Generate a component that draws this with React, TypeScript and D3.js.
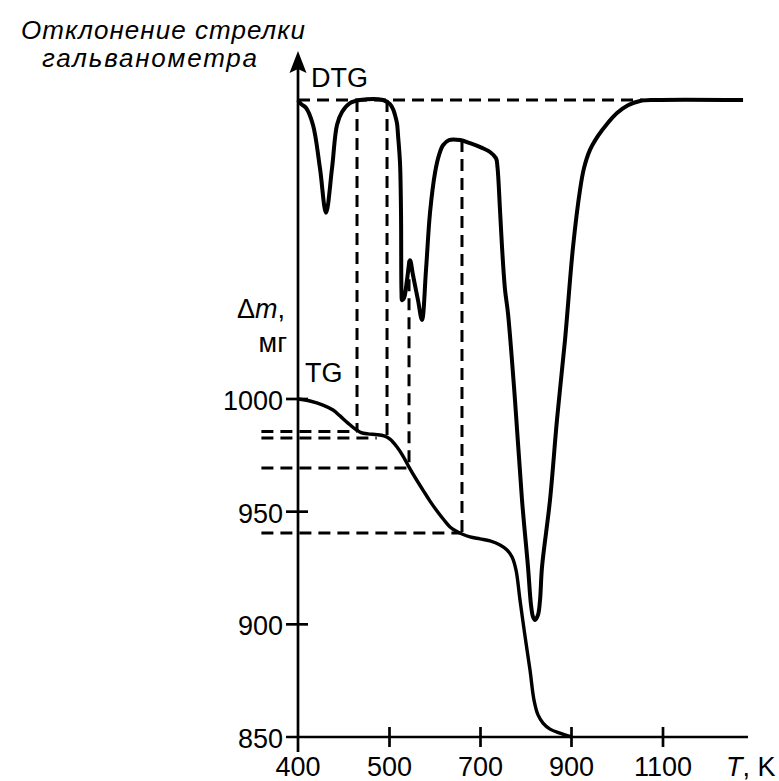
import React from "react";
import * as d3 from "d3";

// ---- Data ----
const xTickValues = [400, 500, 700, 900, 1100];
const yTickValues = [1000, 950, 900, 850];

// DTG curve: temperature (K) and galvanometer deflection (arbitrary units, 0 = baseline)
const dtgT = [400, 403.5, 408.7, 416.4, 424.0, 430.6, 437.2, 442.6, 448.1, 456.8, 467.8, 492.9, 501.1, 508, 512.1, 516.5, 518.7, 523.1, 525.3, 526.4, 527.5, 531.9, 538.5, 545.1, 551.7, 562.6, 571.4, 580.2, 589.0, 600.0, 608.8, 617.6, 630.8, 655.0, 677.0, 703.3, 720.9, 734.1, 737.3, 742.9, 747.3, 753.9, 760.4, 775.8, 791.2, 804.4, 811.0, 815.4, 819.8, 826.4, 830.8, 835.2, 852.8, 868.1, 885.7, 903.3, 918.6, 927.3, 940.4, 957.9, 977.6, 999.5, 1023.5, 1049.8, 1082.6, 1275];
const dtgD = [0, 0.8, 1.5, 4.8, 13.1, 21.7, 13.1, 4.8, 2.3, 0.6, 0, 0, 0.8, 1.8, 2.9, 4.5, 6.7, 12.1, 21.7, 37.1, 38.5, 38.1, 34.6, 30.8, 33.7, 38.5, 42.3, 32.7, 21.7, 14.0, 10.6, 8.7, 7.7, 7.7, 8.3, 9.2, 10.0, 11.2, 12.9, 21.2, 28.3, 36.5, 41.0, 57.7, 76.9, 89.8, 97.1, 99.4, 100, 99.0, 96.2, 89.8, 76.9, 61.5, 46.2, 28.3, 17.3, 13.1, 9.6, 6.9, 4.6, 2.5, 1.0, 0.2, 0, 0];

// TG curve: temperature (K) and mass (mg)
const tgT = [400, 413.1, 427.3, 438.3, 445.9, 454.6, 462.3, 468.9, 476.5, 486.3, 494.0, 501.1, 516.5, 529.7, 542.9, 558.3, 573.6, 589.0, 604.4, 619.8, 633.0, 646.2, 659.4, 677.0, 699.0, 720.9, 742.9, 758.3, 769.3, 778.1, 786.8, 797.8, 808.8, 817.6, 826.4, 837.4, 852.8, 874.7, 901.1];
const tgM = [1000, 999.1, 997.3, 995.1, 992.5, 989.3, 986.7, 985.1, 984.5, 984.2, 983.6, 982.2, 978.7, 974.7, 969.8, 964.5, 959.6, 954.7, 950.3, 946.3, 943.2, 941.4, 940.1, 938.8, 937.9, 937.0, 935.2, 933.0, 929.9, 924.1, 910.8, 894.8, 879.7, 866.4, 859.8, 856.2, 853.5, 851.7, 850.0];

// Guide lines: vertical (T, DTG deflection at top, TG mass at bottom)
const guideT = [464.5, 497.3, 542.9, 659.3];
const guideTopD = [0, 0, 30.8, 7.7];
const guideBottomM = [985.6, 983.3, 969.4, 940.5];
// Horizontal guides: mass level and the temperature where they end
const hGuideM = [985.6, 982.7, 969.4, 940.5];
const hGuideEndT = [464.5, 486, 542.9, 659.3];
const hGuideStartT = 360;
const baselineEndT = 1055;

export default function App() {
  const W = 779, H = 781;
  const x = d3.scaleLinear()
    .domain([400, 500, 700, 900, 1100, 1300])
    .range([298, 389.5, 480.5, 571.5, 663, 754.5]);
  const yTG = d3.scaleLinear().domain([850, 1000]).range([737, 399]);
  const yDTG = d3.scaleLinear().domain([0, 100]).range([100, 620]);

  const curve = d3.curveCatmullRom.alpha(0.5);
  const dtgLine = d3.line<number>().x((_, i) => x(dtgT[i])).y((_, i) => yDTG(dtgD[i])).curve(curve);
  const tgLine = d3.line<number>().x((_, i) => x(tgT[i])).y((_, i) => yTG(tgM[i])).curve(curve);

  const axisX = x(400);
  const xAxisY = yTG(850);
  const font = "'Liberation Sans', Arial, sans-serif";
  const dash = "12 7";

  return (
    <svg width={W} height={H} style={{ position: "absolute", left: 0, top: 0, background: "#fff" }} fontFamily={font}>
      <rect width={W} height={H} fill="#fff" />
      {/* dashed guides */}
      <g stroke="#000" strokeWidth={3} strokeDasharray={dash} fill="none">
        <line x1={axisX} x2={x(baselineEndT)} y1={yDTG(0)} y2={yDTG(0)} />
        {guideT.map((t, i) => (
          <line key={"v" + i} x1={x(t)} x2={x(t)} y1={yDTG(guideTopD[i])} y2={yTG(guideBottomM[i])} />
        ))}
        {hGuideM.map((m, i) => (
          <line key={"h" + i} x1={x(hGuideStartT)} x2={x(hGuideEndT[i])} y1={yTG(m)} y2={yTG(m)} />
        ))}
      </g>
      {/* axes */}
      <g stroke="#000" strokeWidth={2.7} fill="none">
        <line x1={axisX} x2={axisX} y1={60} y2={752} />
        <line x1={286} x2={748} y1={xAxisY} y2={xAxisY} />
        {xTickValues.slice(1).map((t) => (
          <line key={t} x1={x(t)} x2={x(t)} y1={xAxisY - 10} y2={xAxisY + 10} />
        ))}
        {yTickValues.slice(0, 3).map((v) => (
          <line key={v} x1={286} x2={308} y1={yTG(v)} y2={yTG(v)} />
        ))}
      </g>
      <path d={`M${axisX},51 L${axisX + 8.5},73 L${axisX},69 L${axisX - 8.5},73 Z`} fill="#000" />
      {/* curves */}
      <path d={dtgLine(dtgT) || ""} fill="none" stroke="#000" strokeWidth={4} strokeLinejoin="round" />
      <path d={tgLine(tgT) || ""} fill="none" stroke="#000" strokeWidth={3.4} strokeLinejoin="round" />
      {/* text */}
      <g fontSize={27} fill="#000">
        {xTickValues.map((t) => (
          <text key={t} x={x(t)} y={776} textAnchor="middle">{t}</text>
        ))}
        {yTickValues.map((v) => (
          <text key={v} x={283} y={yTG(v) + 11} textAnchor="end">{v}</text>
        ))}
        <text x={726} y={776}><tspan fontStyle="italic">T</tspan>, K</text>
        <text x={311} y={87}>DTG</text>
        <text x={305} y={382}>TG</text>
        <text x={285} y={318} textAnchor="end">Δ<tspan fontStyle="italic">m</tspan>,</text>
        <text x={287} y={352} textAnchor="end">мг</text>
      </g>
      <g fontSize={26} fontStyle="italic" fill="#000">
        <text x={21} y={39} textLength={284} lengthAdjust="spacing">Отклонение стрелки</text>
        <text x={42} y={67} textLength={215} lengthAdjust="spacing">гальванометра</text>
      </g>
    </svg>
  );
}
